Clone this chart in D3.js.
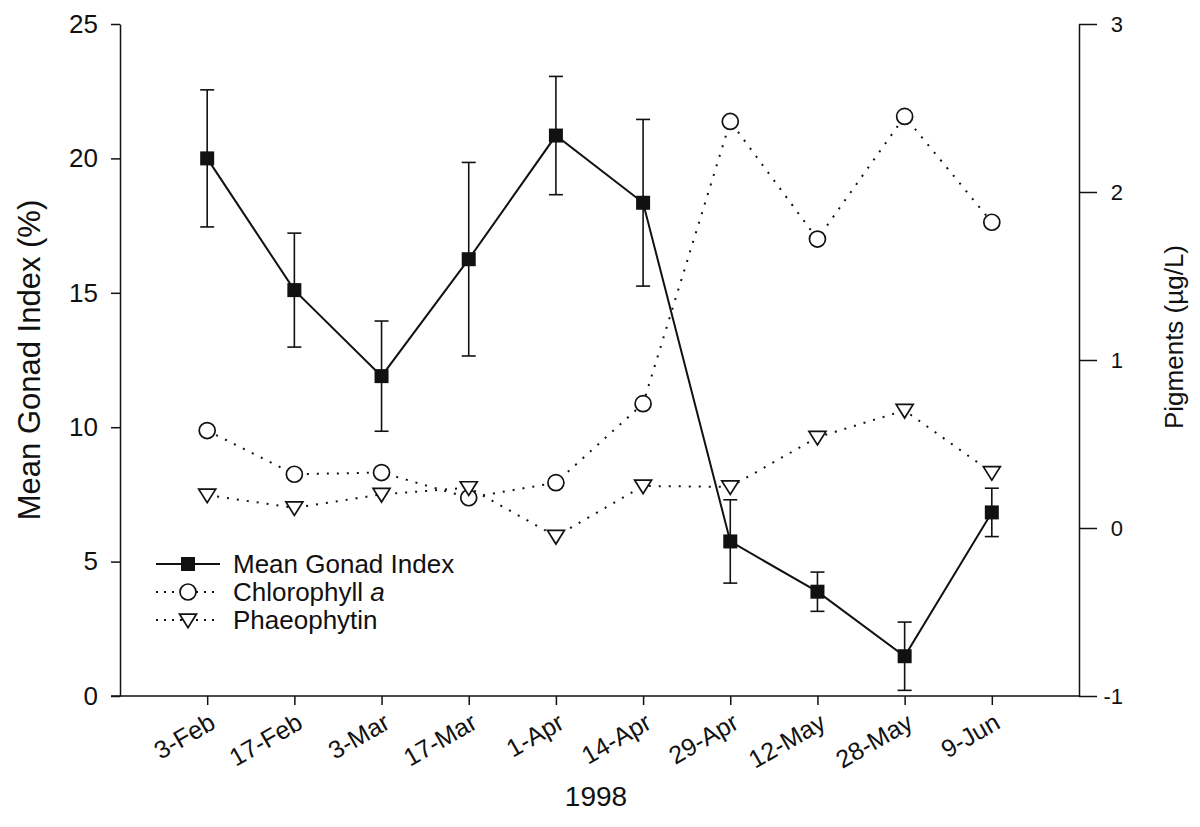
<!DOCTYPE html>
<html><head><meta charset="utf-8">
<script src="https://cdn.jsdelivr.net/npm/d3@7"></script>
<style>body{margin:0;background:#fff}svg{display:block}text{font-family:"Liberation Sans",Arial,sans-serif;fill:#111}</style>
</head><body><svg id="c" width="1200" height="827"></svg>
<script>
const dates = ["3-Feb","17-Feb","3-Mar","17-Mar","1-Apr","14-Apr","29-Apr","12-May","28-May","9-Jun"];
const gonadMean = [20.0,15.1,11.9,16.25,20.85,18.35,5.75,3.88,1.48,6.83];
const gonadSE   = [2.55,2.12,2.05,3.6,2.2,3.1,1.55,0.73,1.27,0.9];
const chlorophyll = [0.58,0.32,0.33,0.18,0.27,0.74,2.42,1.72,2.45,1.82];
const phaeophytin = [0.196,0.12,0.20,0.24,-0.05,0.25,0.245,0.54,0.70,0.33];
const leftTicks = [0,5,10,15,20,25];
const rightTicks = [-1,0,1,2,3];

const svg = d3.select("#c");
const FF='"Liberation Sans",Arial,sans-serif';
const L=120, R=1079, T=24, B=696;
const x = d3.scalePoint().domain(dates).range([L,R]).padding(1);
const yL = d3.scaleLinear().domain([0,25]).range([B,T]);
const yR = d3.scaleLinear().domain([-1,3]).range([B,T]);

// axes
const ax = svg.append("g").attr("transform",`translate(0,${B})`)
  .call(d3.axisBottom(x).tickSize(9).tickSizeOuter(0).tickFormat(""));
ax.select(".domain").attr("d",`M${L-9},0H${R}`);
ax.selectAll(".tick text").remove();
dates.forEach(d=>{
  svg.append("text").attr("transform",`translate(${x(d)+1},${B+16}) rotate(-30)`)
    .attr("text-anchor","end").attr("dy","0.71em").attr("font-size",25).text(d);
});
const al = svg.append("g").attr("transform",`translate(${L},0)`)
  .call(d3.axisLeft(yL).tickValues(leftTicks).tickSize(9).tickSizeOuter(0).tickPadding(13));
al.selectAll("text").attr("font-size",26).style("font-family",FF);
const ar = svg.append("g").attr("transform",`translate(${R},0)`)
  .call(d3.axisRight(yR).tickValues(rightTicks).tickSize(18).tickSizeOuter(0).tickFormat(d=>String(d)));
ar.selectAll("text").attr("font-size",22).style("font-family",FF).attr("text-anchor","end").attr("x",44);
svg.selectAll(".domain,.tick line").attr("stroke","#111").attr("stroke-width",1.5);

svg.append("text").attr("transform",`translate(40,360) rotate(-90)`).attr("text-anchor","middle").attr("font-size",31).text("Mean Gonad Index (%)");
svg.append("text").attr("transform",`translate(1183,337) rotate(-90)`).attr("text-anchor","middle").attr("font-size",26).text("Pigments (µg/L)");
svg.append("text").attr("x",596).attr("y",806).attr("text-anchor","middle").attr("font-size",28).text("1998");

const dotted = "2,8";
// pigment lines
svg.append("path").datum(chlorophyll).attr("fill","none").attr("stroke","#111").attr("stroke-width",2).attr("stroke-dasharray",dotted)
  .attr("d",d3.line().x((d,i)=>x(dates[i])).y(d=>yR(d)));
svg.append("path").datum(phaeophytin).attr("fill","none").attr("stroke","#111").attr("stroke-width",2).attr("stroke-dasharray",dotted)
  .attr("d",d3.line().x((d,i)=>x(dates[i])).y(d=>yR(d)));
// gonad line
svg.append("path").datum(gonadMean).attr("fill","none").attr("stroke","#111").attr("stroke-width",2)
  .attr("d",d3.line().x((d,i)=>x(dates[i])).y(d=>yL(d)));
// error bars
gonadMean.forEach((m,i)=>{
  const cx=x(dates[i]);
  const g=svg.append("g").attr("stroke","#111").attr("stroke-width",1.6);
  g.append("line").attr("x1",cx).attr("x2",cx).attr("y1",yL(m-gonadSE[i])).attr("y2",yL(m+gonadSE[i]));
  [m-gonadSE[i],m+gonadSE[i]].forEach(v=>g.append("line").attr("x1",cx-7).attr("x2",cx+7).attr("y1",yL(v)).attr("y2",yL(v)));
});
const tri = (cx,cy,s)=>`M${cx-s},${cy-s*0.7}L${cx+s},${cy-s*0.7}L${cx},${cy+s*0.9}Z`;
// markers
chlorophyll.forEach((v,i)=>svg.append("circle").attr("cx",x(dates[i])).attr("cy",yR(v)).attr("r",8).attr("fill","#fff").attr("stroke","#111").attr("stroke-width",1.7));
phaeophytin.forEach((v,i)=>svg.append("path").attr("d",tri(x(dates[i]),yR(v),8.5)).attr("fill","#fff").attr("stroke","#111").attr("stroke-width",1.7));
gonadMean.forEach((v,i)=>svg.append("rect").attr("x",x(dates[i])-7).attr("y",yL(v)-7).attr("width",14).attr("height",14).attr("fill","#111"));

// legend
const lg = svg.append("g");
const rows=[{t:"Mean Gonad Index",k:"sq",y:564},{t:"Chlorophyll ",it:"a",k:"ci",y:592},{t:"Phaeophytin",k:"tr",y:620}];
rows.forEach(r=>{
  const ln=lg.append("line").attr("x1",156).attr("x2",220).attr("y1",r.y).attr("y2",r.y).attr("stroke","#111").attr("stroke-width",r.k==="sq"?1.8:2);
  if(r.k!=="sq") ln.attr("stroke-dasharray","2,6");
  if(r.k==="sq") lg.append("rect").attr("x",181).attr("y",r.y-7).attr("width",14).attr("height",14).attr("fill","#111");
  if(r.k==="ci") lg.append("circle").attr("cx",188).attr("cy",r.y).attr("r",8).attr("fill","#fff").attr("stroke","#111").attr("stroke-width",1.7);
  if(r.k==="tr") lg.append("path").attr("d",tri(188,r.y,8.5)).attr("fill","#fff").attr("stroke","#111").attr("stroke-width",1.7);
  const tx=lg.append("text").attr("x",233).attr("y",r.y).attr("dy","0.36em").attr("font-size",26).text(r.t);
  if(r.it) tx.append("tspan").attr("font-style","italic").text(r.it);
});
</script></body></html>
